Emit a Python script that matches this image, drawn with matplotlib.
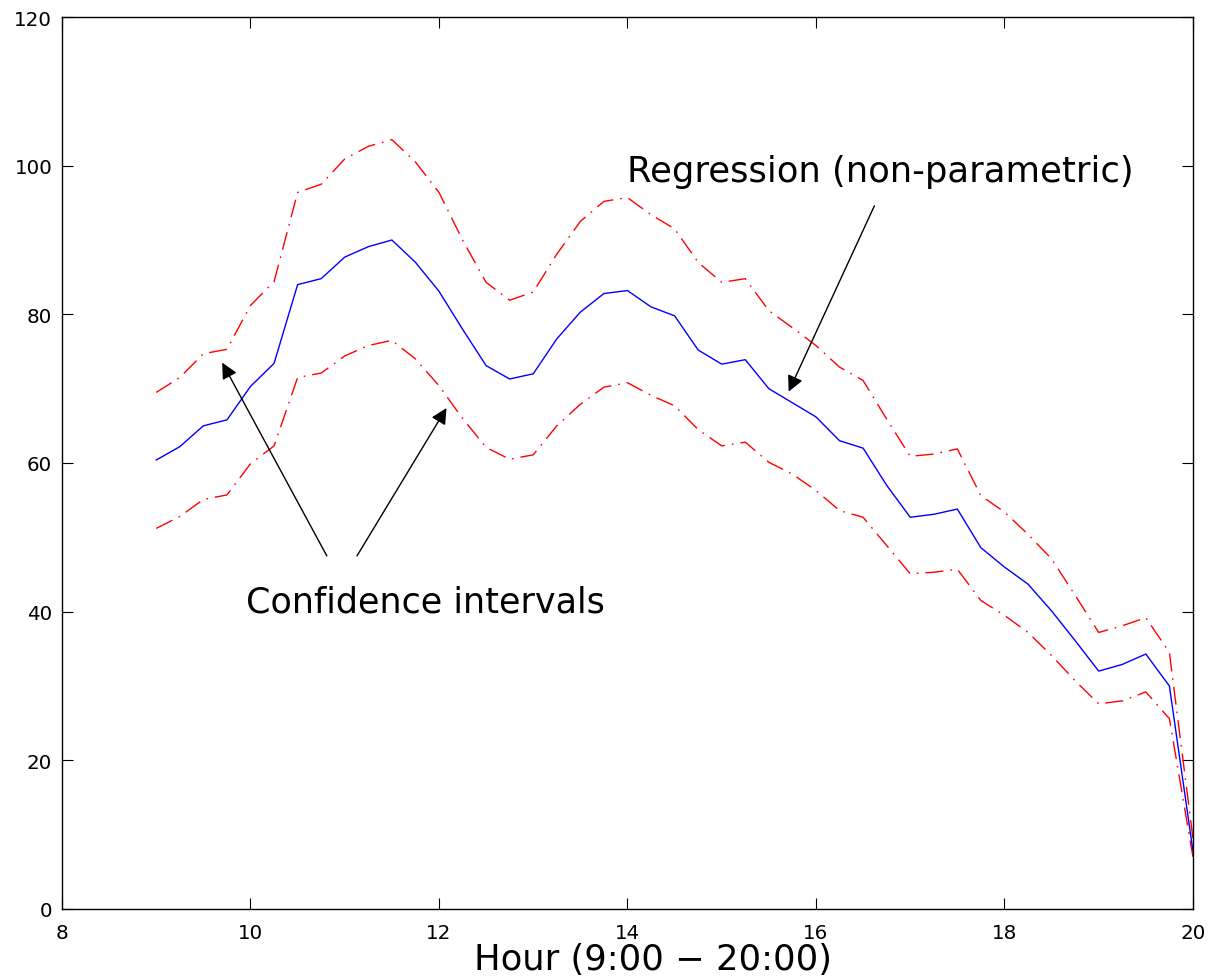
import numpy as np
import matplotlib as mpl
mpl.use('Agg')
import matplotlib.pyplot as plt

# hours 9:00 - 20:00, every quarter hour
hours = np.arange(9, 20.01, 0.25)

regression = [60.4, 62.2, 65.0, 65.8, 70.3, 73.4, 84.0, 84.8, 87.7, 89.1, 90.0, 87.0,
              83.1, 78.0, 73.1, 71.3, 72.0, 76.7, 80.3, 82.8, 83.2, 81.0, 79.8, 75.2,
              73.3, 73.9, 70.0, 68.1, 66.2, 63.0, 62.0, 57.0, 52.7, 53.1, 53.8, 48.6,
              46.0, 43.7, 40.1, 36.1, 32.0, 32.9, 34.3, 30.0, 7.8]
upper_ci = [69.5, 71.5, 74.7, 75.3, 81.2, 84.4, 96.4, 97.5, 100.9, 102.6, 103.5, 100.5,
            96.4, 90.0, 84.3, 81.9, 83.0, 88.1, 92.5, 95.2, 95.7, 93.4, 91.5, 87.0,
            84.3, 84.8, 80.5, 78.2, 75.8, 72.9, 71.1, 65.9, 60.9, 61.2, 61.9, 55.6,
            53.4, 50.4, 47.1, 42.2, 37.2, 38.1, 39.2, 34.5, 9.5]
lower_ci = [51.2, 52.8, 55.1, 55.7, 59.9, 62.3, 71.5, 72.1, 74.4, 75.8, 76.5, 74.0,
            70.4, 66.0, 62.1, 60.5, 61.1, 65.0, 67.9, 70.2, 70.8, 69.1, 67.7, 64.5,
            62.3, 62.8, 60.1, 58.5, 56.3, 53.6, 52.7, 48.9, 45.1, 45.3, 45.7, 41.5,
            39.5, 37.2, 34.1, 30.7, 27.6, 28.0, 29.2, 25.6, 7.0]

plt.rcParams['font.family'] = 'DejaVu Sans'

fig = plt.figure(figsize=(12.11, 9.79), dpi=100)
ax = fig.add_axes([0.0512, 0.0705, 0.9339, 0.9111])

dashdot = (13, 5, 1.2, 5)
ax.plot(hours, upper_ci, color='red', lw=1.0, dashes=dashdot)
ax.plot(hours, lower_ci, color='red', lw=1.0, dashes=dashdot)
ax.plot(hours, regression, color='blue', lw=1.0)

ax.set_xlim(8, 20)
ax.set_ylim(0, 120)
ax.set_xticks(range(8, 21, 2))
ax.set_yticks(range(0, 121, 20))
ax.tick_params(direction='in', length=8, width=0.8, top=True, right=True,
               labelsize=14.3)
ax.tick_params(axis='x', pad=10)
ax.tick_params(axis='y', pad=7)
for s in ax.spines.values():
    s.set_linewidth(1.0)

ax.set_xlabel('Hour (9:00 \u2212 20:00)', fontsize=25.5)
ax.xaxis.set_label_coords(0.5225, -0.0675)
ax.xaxis.label.set_va('baseline')

arrow = dict(arrowstyle='-|>', color='black', lw=1.0, mutation_scale=24,
             shrinkA=0, shrinkB=0)

ax.annotate('', xy=(15.71, 69.6), xytext=(16.62, 94.6), arrowprops=arrow)
ax.text(16.68, 99.3, 'Regression (non-parametric)', fontsize=25.5,
        ha='center', va='center')

ax.annotate('', xy=(9.70, 73.5), xytext=(10.81, 47.5), arrowprops=arrow)
ax.annotate('', xy=(12.08, 67.4), xytext=(11.13, 47.5), arrowprops=arrow)
ax.text(11.857, 41.4, 'Confidence intervals', fontsize=25.2,
        ha='center', va='center')

fig.savefig('out.png', dpi=100)
